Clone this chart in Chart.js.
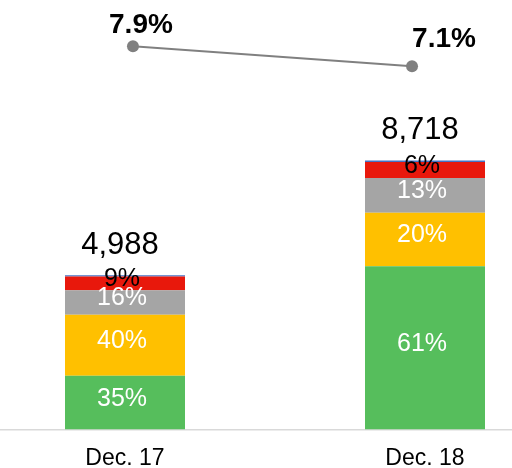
<!DOCTYPE html>
<html>
<head>
<meta charset="utf-8">
<script src="https://cdn.jsdelivr.net/npm/chart.js@4"></script>
<style>
  html, body { margin: 0; padding: 0; background: #fff; overflow: hidden; }
  #wrap { position: absolute; left: -31px; top: -6px; width: 612px; height: 493px; }
</style>
</head>
<body>
<div id="wrap"><canvas id="chart" width="612" height="493"></canvas></div>
<script>
// ---- data ----
const categories = ['Dec. 17', 'Dec. 18'];
const totals     = [4988, 8718];
const greenPct   = [35, 61];
const yellowPct  = [40, 20];
const grayPct    = [16, 13];
const redPct     = [9, 6];
const bluePct    = [0.7, 0.6];   // thin top sliver, no label
const ratio      = [7.9, 7.1];   // line, %

const FONT = "'Liberation Sans', Arial, sans-serif";

const toValues = pct => pct.map((p, i) => totals[i] * p / 100);

const segments = [
  { label: 'green',  pct: greenPct,  color: '#56BE5C', text: '#fff' },
  { label: 'yellow', pct: yellowPct, color: '#FFC000', text: '#fff' },
  { label: 'gray',   pct: grayPct,   color: '#A5A5A5', text: '#fff' },
  { label: 'red',    pct: redPct,    color: '#E8180C', text: '#000' },
  { label: 'blue',   pct: bluePct,   color: '#4472C4', text: null }
];

const barSets = segments.map(s => ({
  type: 'bar',
  label: s.label,
  data: toValues(s.pct),
  backgroundColor: s.color,
  borderWidth: 0,
  grouped: false,
  barPercentage: 0.8,
  categoryPercentage: 0.5,
  xAxisID: 'x',
  yAxisID: 'y',
  order: 2
}));

const lineSet = {
  type: 'line',
  label: 'ratio',
  data: ratio.map((v, i) => ({ x: i, y: v })),
  borderColor: '#808080',
  backgroundColor: '#808080',
  borderWidth: 2,
  pointRadius: 6,
  pointBackgroundColor: '#808080',
  pointBorderWidth: 0,
  xAxisID: 'x2',
  yAxisID: 'y2',
  order: 1
};

// data labels
const labelPlugin = {
  id: 'labels',
  afterDatasetsDraw(chart) {
    const ctx = chart.ctx;
    ctx.save();
    ctx.textAlign = 'center';
    ctx.textBaseline = 'middle';

    // segment percentages
    segments.forEach((s, di) => {
      if (!s.text) return;
      const meta = chart.getDatasetMeta(di);
      meta.data.forEach((el, i) => {
        ctx.fillStyle = s.text;
        ctx.font = '25px ' + FONT;
        ctx.fillText(s.pct[i] + '%', el.x - 3, (el.y + el.base) / 2 - 4);
      });
    });

    // totals above stacks
    const topMeta = chart.getDatasetMeta(segments.length - 1);
    topMeta.data.forEach((el, i) => {
      ctx.fillStyle = '#000';
      ctx.font = '31px ' + FONT;
      ctx.textBaseline = 'bottom';
      ctx.fillText(totals[i].toLocaleString('en-US'), el.x - 5, el.y - 14);
    });

    // line labels
    const dx = [8, 32], dy = [-21, -27];
    const lineMeta = chart.getDatasetMeta(segments.length);
    lineMeta.data.forEach((pt, i) => {
      ctx.fillStyle = '#000';
      ctx.font = 'bold 28px ' + FONT;
      ctx.textBaseline = 'middle';
      ctx.fillText(ratio[i].toFixed(1) + '%', pt.x + dx[i], pt.y + dy[i]);
    });
    ctx.restore();
  }
};

new Chart(document.getElementById('chart'), {
  data: { labels: categories, datasets: [...barSets, lineSet] },
  options: {
    responsive: false,
    animation: false,
    layout: { padding: 0 },
    plugins: { legend: { display: false }, tooltip: { enabled: false } },
    scales: {
      x: {
        stacked: true,
        offset: true,
        grid: { display: true, drawOnChartArea: false, drawTicks: false },
        border: { display: true, color: '#D9D9D9', width: 1.5 },
        ticks: { color: '#000', font: { family: FONT, size: 23 }, padding: 15 }
      },
      y: { stacked: true, display: false, min: 0, max: 14000 },
      x2: { type: 'linear', display: false, min: -0.566, max: 1.584 },
      y2: { display: false, min: -7.38, max: 9.74 }
    }
  },
  plugins: [labelPlugin]
});
</script>
</body>
</html>
